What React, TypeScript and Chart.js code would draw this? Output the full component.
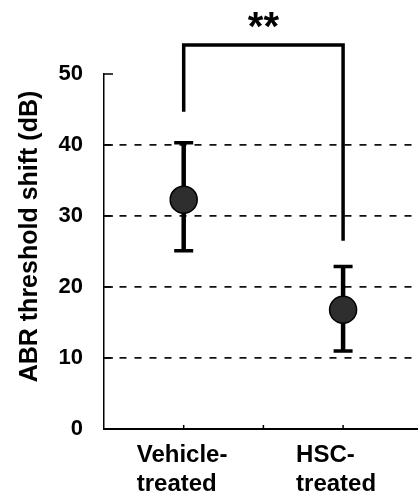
import React, { useEffect, useRef } from "react";
import { Chart, registerables } from "chart.js";

Chart.register(...registerables);

// ---- data ----
const groupLabels: string[][] = [["Vehicle-", "treated"], ["HSC-", "treated"]];
const groupX: number[] = [1, 3];
const xTickValues: number[] = [0, 1, 2, 3];
const xMax = 3.94;
const means: number[] = [32.3, 16.8];
const upperErr: number[] = [40.3, 22.9];
const lowerErr: number[] = [25.1, 11.0];
const bracketLeftY = 44.7;
const bracketTopY = 54.1;
const bracketRightY = 26.5;
const significance = "**";
const yTicks: number[] = [0, 10, 20, 30, 40, 50];
const yTitle = "ABR threshold shift (dB)";

const FONT = "'Liberation Sans', Arial, Helvetica, sans-serif";

const overlayPlugin = {
  id: "overlay",
  beforeDatasetsDraw(chart: any) {
    const { ctx, scales } = chart;
    const xs = scales.x;
    const ys = scales.y;
    ctx.save();
    ctx.strokeStyle = "#000";
    ctx.lineCap = "butt";
    for (let i = 0; i < groupX.length; i++) {
      const px = xs.getPixelForValue(groupX[i]);
      const pu = ys.getPixelForValue(upperErr[i]);
      const pl = ys.getPixelForValue(lowerErr[i]);
      ctx.lineWidth = 4.5;
      ctx.beginPath();
      ctx.moveTo(px, pu);
      ctx.lineTo(px, pl);
      ctx.stroke();
      ctx.lineWidth = 3.5;
      ctx.beginPath();
      ctx.moveTo(px - 9.5, pu);
      ctx.lineTo(px + 9.5, pu);
      ctx.moveTo(px - 9.5, pl);
      ctx.lineTo(px + 9.5, pl);
      ctx.stroke();
    }
    ctx.restore();
  },
  afterDraw(chart: any) {
    const { ctx, scales, chartArea } = chart;
    const xs = scales.x;
    const ys = scales.y;
    ctx.save();
    // inward y ticks
    ctx.strokeStyle = "#000";
    ctx.lineWidth = 1.5;
    ctx.beginPath();
    for (const v of yTicks) {
      if (v === 0) continue;
      const py = ys.getPixelForValue(v);
      ctx.moveTo(chartArea.left, py);
      ctx.lineTo(chartArea.left + 9, py);
    }
    // inward x ticks
    for (const v of xTickValues) {
      if (v === 0) continue;
      const px = xs.getPixelForValue(v);
      ctx.moveTo(px, chartArea.bottom);
      ctx.lineTo(px, chartArea.bottom - 4);
    }
    ctx.stroke();

    // y title
    ctx.fillStyle = "#000";
    ctx.font = `bold 25px ${FONT}`;
    ctx.textAlign = "center";
    ctx.textBaseline = "alphabetic";
    ctx.translate(37, 236.5);
    ctx.rotate(-Math.PI / 2);
    ctx.fillText(yTitle, 0, 0);
    ctx.restore();

    // significance
    ctx.save();
    ctx.fillStyle = "#000";
    ctx.font = `bold 40px ${FONT}`;
    ctx.textAlign = "center";
    ctx.textBaseline = "alphabetic";
    const mx = xs.getPixelForValue((groupX[0] + groupX[1]) / 2);
    const my = ys.getPixelForValue(bracketTopY);
    ctx.fillText(significance, mx, my - 5);
    ctx.restore();
  },
};

export default function App() {
  const ref = useRef<HTMLCanvasElement | null>(null);
  useEffect(() => {
    if (!ref.current) return;
    const chart = new Chart(ref.current, {
      type: "scatter",
      data: {
        datasets: [
          {
            type: "line",
            data: [
              { x: groupX[0], y: bracketLeftY },
              { x: groupX[0], y: bracketTopY },
              { x: groupX[1], y: bracketTopY },
              { x: groupX[1], y: bracketRightY },
            ],
            borderColor: "#000",
            borderWidth: 3.5,
            pointRadius: 0,
            fill: false,
            tension: 0,
            clip: false as any,
            borderJoinStyle: "miter",
            borderCapStyle: "butt",
          } as any,
          {
            type: "scatter",
            data: groupX.map((x, i) => ({ x, y: means[i] })),
            backgroundColor: "#2e2e2e",
            borderColor: "#000",
            borderWidth: 1.5,
            pointRadius: 13.5,
            pointHoverRadius: 13.5,
            clip: false as any,
          } as any,
        ],
      },
      options: {
        animation: false,
        responsive: false,
        events: [],
        layout: { autoPadding: false, padding: { top: 74, left: 0, right: 0, bottom: 0 } },
        plugins: { legend: { display: false }, tooltip: { enabled: false } },
        scales: {
          x: {
            type: "linear",
            min: 0,
            max: xMax,
            afterBuildTicks: (s: any) => {
              s.ticks = [...xTickValues, xMax].map((v) => ({ value: v }));
            },
            afterFit: (s: any) => {
              s.height = 63;
              s.paddingLeft = 0;
              s.paddingRight = 0;
            },
            grid: { display: true, drawOnChartArea: false, drawTicks: false },
            border: { display: true, color: "#000", width: 2 },
            ticks: {
              autoSkip: false,
              maxRotation: 0,
              align: "start",
              labelOffset: -47,
              padding: 12,
              color: "#000",
              font: { family: FONT, size: 24, weight: "bold", lineHeight: 1.2 },
              callback: (v: any) => {
                const idx = groupX.indexOf(Number(v));
                return idx >= 0 ? groupLabels[idx] : "";
              },
            },
          },
          y: {
            type: "linear",
            min: 0,
            max: 50,
            afterFit: (s: any) => {
              s.width = 104;
            },
            afterBuildTicks: (s: any) => {
              s.ticks = yTicks.map((v) => ({ value: v }));
            },
            grid: {
              drawTicks: false,
              lineWidth: 1.8,
              color: (c: any) =>
                c.tick && (c.tick.value === 0 || c.tick.value === 50) ? "rgba(0,0,0,0)" : "#111",
            },
            border: { display: true, color: "#000", width: 1.5, dash: [7, 8] },
            ticks: {
              padding: 21,
              color: "#000",
              font: { family: FONT, size: 22, weight: "bold" },
            },
          },
        },
      } as any,
      plugins: [overlayPlugin],
    });
    return () => chart.destroy();
  }, []);
  return (
    <div style={{ position: "absolute", left: 0, top: 0, width: 418, height: 492, background: "#fff" }}>
      <canvas ref={ref} width={418} height={492} style={{ display: "block" }} />
    </div>
  );
}
